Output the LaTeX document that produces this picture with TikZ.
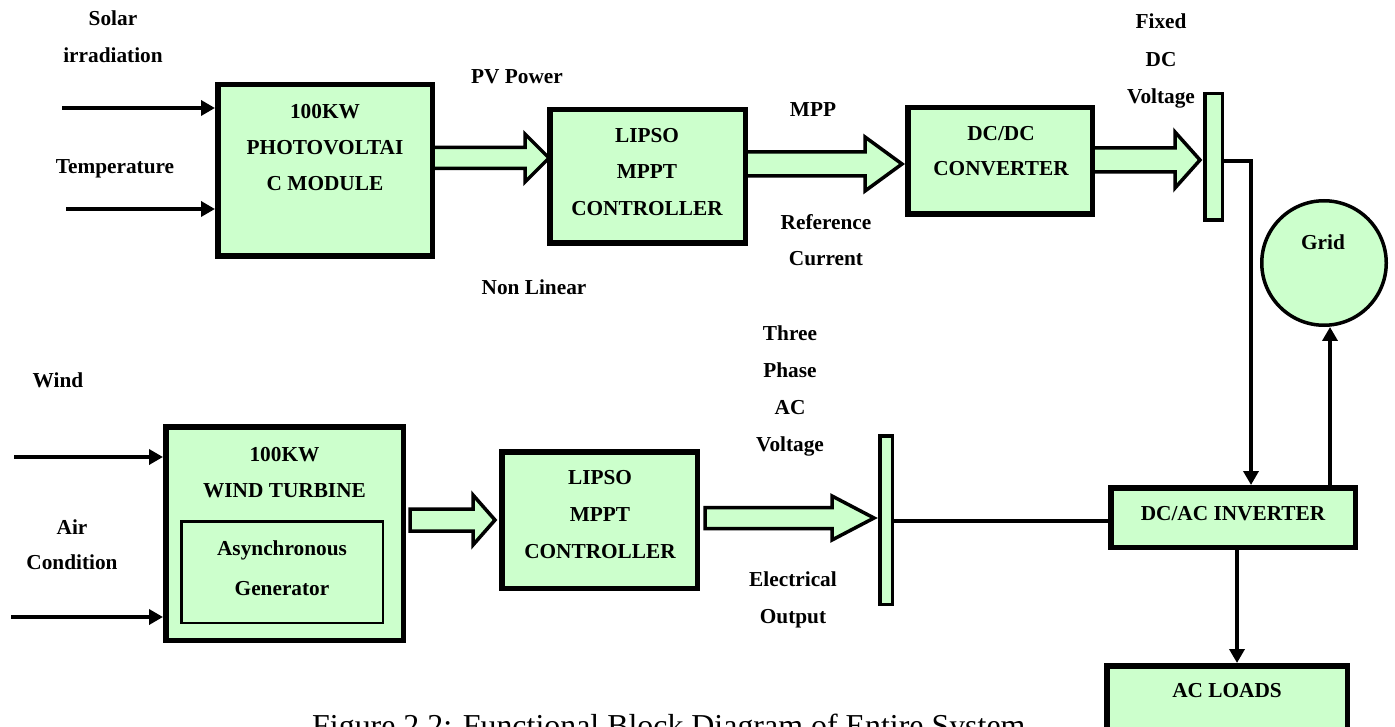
\documentclass[tikz,border=0pt]{standalone}
\usepackage{fontspec}
\setmainfont{Liberation Serif}
\usetikzlibrary{arrows.meta,calc}
\definecolor{boxgreen}{RGB}{204,255,204}
\tikzset{
  box/.style={draw=black, fill=boxgreen, line width=5.5pt, inner sep=0pt, rectangle},
  innerbox/.style={draw=black, fill=boxgreen, line width=2.5pt, inner sep=0pt, rectangle},
  busbar/.style={draw=black, fill=boxgreen, line width=3.5pt, inner sep=0pt, rectangle},
  lbl/.style={font=\bfseries\fontsize{21.3}{#1}\selectfont, align=center, inner sep=0pt, anchor=north},
  lbl/.default=36.5,
  conn/.style={line width=3.5pt},
  arr/.style={conn, -{Triangle[length=14pt,width=15pt]}},
  fat/.style={draw=black, fill=boxgreen, line width=3.5pt, line join=miter},
}
\newcommand\fatarrow[6]{% x0 xbase xtip yc shafthalf headhalf
  \draw[fat] (#1,#4-#5) -- (#2,#4-#5) -- (#2,#4-#6) -- (#3,#4) -- (#2,#4+#6) -- (#2,#4+#5) -- (#1,#4+#5) -- cycle;}
\begin{document}
\begin{tikzpicture}[x=1pt, y=-1pt]
\useasboundingbox (0,0) rectangle (1395,727);
\clip (0,0) rectangle (1395,727);

% block arrows
\fatarrow{430}{525}{549}{158}{10.5}{24}
\fatarrow{740}{865}{902}{164}{12}{27}
\fatarrow{1090}{1175}{1200}{160}{12}{28}
\fatarrow{410}{473}{495}{520}{11}{25}
\fatarrow{705}{832}{874}{518}{10.5}{22}

% boxes
\node[box, minimum width=214.5pt, minimum height=171.5pt] (pv) at (325,170.5) {};
\node[box, minimum width=195.5pt, minimum height=133.5pt] (mppt1) at (647.5,176.5) {};
\node[box, minimum width=184.5pt, minimum height=106.5pt] (dcdc) at (1000,161) {};
\node[busbar, minimum width=17.5pt, minimum height=126.5pt] (bar1) at (1213.5,157) {};
\node[busbar, circle, minimum size=124.5pt] (grid) at (1324,263) {};
\node[box, minimum width=237.5pt, minimum height=213.5pt] (wt) at (284.5,533.5) {};
\node[innerbox, minimum width=201.5pt, minimum height=101.5pt] (gen) at (282,572) {};
\node[box, minimum width=195.5pt, minimum height=136.5pt] (mppt2) at (599.5,520) {};
\node[busbar, minimum width=12.5pt, minimum height=168.5pt] (bar2) at (886,520) {};
\node[box, minimum width=244.5pt, minimum height=59.5pt] (inv) at (1233,517.5) {};
\node[box, minimum width=240.5pt, minimum height=76.5pt] (loads) at (1227,704) {};

% box texts
\node[lbl=36] (tpvm) at (325,104) {100KW\\PHOTOVOLTAI\\C MODULE};
\node[lbl=36.5] (tm1) at (647,128) {LIPSO\\MPPT\\CONTROLLER};
\node[lbl=35] (tdc) at (1001,126) {DC/DC\\CONVERTER};
\node[lbl] (tg) at (1323,235) {Grid};
\node[lbl=36] (twt) at (284.5,447) {100KW\\WIND TURBINE};
\node[lbl=40] (tgen) at (282,541) {Asynchronous\\Generator};
\node[lbl=37] (tm2) at (600,470) {LIPSO\\MPPT\\CONTROLLER};
\node[lbl] (tinv) at (1233,506) {DC/AC INVERTER};
\node[lbl] (tload) at (1227,683) {AC LOADS};

% free labels
\node[lbl=37] (tsolar) at (113,11) {Solar\\irradiation};
\node[lbl] (ttemp) at (115,159) {Temperature};
\node[lbl] (tpv) at (517,69) {PV Power};
\node[lbl] (tnl) at (534,280) {Non Linear};
\node[lbl] (tmpp) at (813,102) {MPP};
\node[lbl=36] (tref) at (826,214) {Reference\\Current};
\node[lbl=37.5] (tfix) at (1161,14) {Fixed\\DC\\Voltage};
\node[lbl] (twind) at (58,373) {Wind};
\node[lbl=35] (tair) at (72,520) {Air\\Condition};
\node[lbl=37] (tthree) at (790,326) {Three\\Phase\\AC\\Voltage};
\node[lbl=37] (telec) at (793,572) {Electrical\\Output};

% input arrows
\coordinate (s1) at (62,108);
\coordinate (s2) at (66,209);
\coordinate (w1) at (14,457);
\coordinate (w2) at (11,617);
\draw[arr] (s1) -- (s1 -| pv.west);
\draw[arr] (s2) -- (s2 -| pv.west);
\draw[arr] (w1) -- (w1 -| wt.west);
\draw[arr] (w2) -- (w2 -| wt.west);

% connectors
\coordinate (j1) at (1251,161);
\draw[arr] (bar1.east |- j1) -- (j1) -- (j1 |- inv.north);
\coordinate (gx) at (1330,400);
\draw[arr] (gx |- inv.north) -- (gx |- grid.south);
\coordinate (l2) at (1000,521);
\draw[conn] (bar2.east |- l2) -- (inv.west |- l2);
\coordinate (l3) at (1237,600);
\draw[arr] (l3 |- inv.south) -- (l3 |- loads.north);

% caption
\node[font=\fontsize{31.9}{38}\selectfont, anchor=base west, inner sep=0pt] (cap) at (312,736) {Figure 2.2: Functional Block Diagram of Entire System};
\end{tikzpicture}
\end{document}
